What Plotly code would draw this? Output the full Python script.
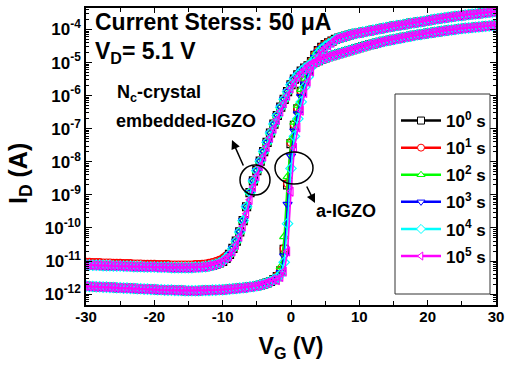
import plotly.graph_objects as go

# ---------------- data ----------------
# Gate-voltage sweep (0.5 V step, -30 V ... 30 V)
VG = [-30 + 0.5 * i for i in range(121)]

SERIES_NAMES = ["10<sup>0</sup> s", "10<sup>1</sup> s", "10<sup>2</sup> s",
                "10<sup>3</sup> s", "10<sup>4</sup> s", "10<sup>5</sup> s"]
SERIES_COLORS = ["#000000", "#FF0000", "#00FF00", "#0000FF", "#00FFFF", "#FF00FF"]
SERIES_SYMBOLS = ["square-open", "circle-open", "triangle-up-open",
                  "triangle-down-open", "diamond-open", "triangle-left-open"]
LEGEND_SYMBOLS = ["square", "circle", "triangle-up", "triangle-down", "diamond",
                  "triangle-left"]

# a-IGZO, log10(I_D / A)
IGZO_OFF = [  # VG = -30 ... -2.5
    -11.76, -11.77, -11.77, -11.78, -11.78, -11.79, -11.79, -11.80, -11.80, -11.81,
    -11.81, -11.82, -11.82, -11.83, -11.83, -11.84, -11.84, -11.85, -11.85, -11.86,
    -11.86, -11.87, -11.87, -11.88, -11.88, -11.88, -11.89, -11.89, -11.89, -11.90,
    -11.90, -11.90, -11.90, -11.90, -11.89, -11.89, -11.89, -11.88, -11.88, -11.87,
    -11.87, -11.86, -11.85, -11.84, -11.83, -11.82, -11.81, -11.80, -11.78, -11.77,
    -11.75, -11.73, -11.70, -11.66, -11.62, -11.56]
# VG = -2 ... 6 (one list per stress time)
IGZO_T0 = [-11.47, -11.30, -10.65, -8.70, -7.45, -6.90, -6.40, -5.87, -5.55, -5.24,
           -4.97, -4.78, -4.64, -4.54, -4.46, -4.40, -4.35]
IGZO_T1 = [-11.45, -11.28, -10.62, -8.66, -7.42, -6.88, -6.38, -5.86, -5.54, -5.23,
           -4.96, -4.77, -4.63, -4.53, -4.45, -4.39, -4.34]
IGZO_T2 = [-11.44, -11.17, -10.26, -8.45, -7.34, -6.80, -6.29, -5.81, -5.49, -5.19,
           -4.93, -4.75, -4.62, -4.52, -4.45, -4.39, -4.34]
IGZO_T3 = [-11.49, -11.35, -10.85, -9.29, -7.83, -7.07, -6.55, -6.03, -5.65, -5.33,
           -5.05, -4.84, -4.68, -4.57, -4.48, -4.42, -4.36]
IGZO_T4 = [-11.52, -11.40, -11.04, -9.87, -8.20, -7.23, -6.70, -6.19, -5.74, -5.43,
           -5.13, -4.89, -4.72, -4.60, -4.51, -4.44, -4.38]
IGZO_T5 = [-11.58, -11.48, -11.32, -10.71, -8.90, -7.58, -6.96, -6.45, -5.92, -5.58,
           -5.27, -5.00, -4.80, -4.66, -4.56, -4.48, -4.40]
IGZO_ON = [  # VG = 6.5 ... 30
    -4.30, -4.26, -4.23, -4.20, -4.17, -4.14, -4.12,
    -4.10, -4.08, -4.06, -4.04, -4.02, -4.00, -3.98, -3.96, -3.94, -3.92,
    -3.90, -3.88, -3.87, -3.85, -3.83, -3.81, -3.80, -3.78, -3.77, -3.75,
    -3.73, -3.71, -3.69, -3.68, -3.66, -3.65, -3.63, -3.62, -3.60, -3.59,
    -3.58, -3.56, -3.55, -3.54, -3.53, -3.52, -3.50, -3.49, -3.48, -3.47,
    -3.46]

# Nc-crystal embedded-IGZO, log10(I_D / A)
NC_OFF = [  # VG = -30 ... -9.5
    -11.12, -11.12, -11.13, -11.13, -11.13, -11.14, -11.14, -11.14, -11.15, -11.15,
    -11.15, -11.16, -11.16, -11.16, -11.17, -11.17, -11.17, -11.18, -11.18, -11.18,
    -11.18, -11.19, -11.19, -11.19, -11.19, -11.20, -11.20, -11.20, -11.20, -11.20,
    -11.20, -11.20, -11.19, -11.19, -11.18, -11.17, -11.15, -11.13, -11.10, -11.06,
    -11.01, -10.92]
NC_OFF_RED = [  # VG = -30 ... -9.5 (10^1 s curve sits slightly higher)
    -11.04, -11.04, -11.05, -11.05, -11.05, -11.06, -11.06, -11.06, -11.07, -11.07,
    -11.07, -11.08, -11.08, -11.08, -11.09, -11.09, -11.09, -11.10, -11.10, -11.10,
    -11.10, -11.11, -11.11, -11.11, -11.11, -11.12, -11.12, -11.12, -11.12, -11.12,
    -11.12, -11.12, -11.11, -11.11, -11.10, -11.09, -11.07, -11.05, -11.02, -10.98,
    -10.93, -10.85]
# VG = -9 ... 2
NC_T_BASE = [-10.80, -10.62, -10.40, -10.12, -9.78, -9.36, -8.93, -8.58, -8.27, -7.98,
             -7.69, -7.41, -7.13, -6.86, -6.60, -6.35, -6.11, -5.88, -5.67, -5.50,
             -5.37, -5.26, -5.17]
NC_T5 = [-10.86, -10.71, -10.51, -10.26, -9.95, -9.57, -9.15, -8.76, -8.43, -8.13,
         -7.84, -7.55, -7.27, -7.00, -6.73, -6.48, -6.23, -6.00, -5.78, -5.59,
         -5.44, -5.32, -5.22]
NC_ON = [  # VG = 2.5 ... 30
    -5.10, -5.04, -4.99, -4.94, -4.90,
    -4.86, -4.82, -4.79, -4.76, -4.73, -4.70, -4.67, -4.64, -4.61, -4.58,
    -4.55, -4.52, -4.49, -4.46, -4.44, -4.41, -4.39, -4.36, -4.34, -4.32,
    -4.30, -4.28, -4.26, -4.24, -4.22, -4.20, -4.18, -4.16, -4.15, -4.13,
    -4.11, -4.10, -4.08, -4.07, -4.05, -4.04, -4.02, -4.01, -4.00, -3.98,
    -3.97, -3.96, -3.95, -3.94, -3.93, -3.92, -3.91, -3.90, -3.89, -3.88,
    -3.87]

X_TICKS = [-30, -20, -10, 0, 10, 20, 30]
X_TICK_TEXT = ["<b>%d</b>" % v for v in X_TICKS]
Y_TICK_EXP = [-12, -11, -10, -9, -8, -7, -6, -5, -4]
Y_TICK_TEXT = ["<b>10<sup>-%d</sup></b>" % (-e) for e in Y_TICK_EXP]

# ---------------- figure ----------------
FONT = "Liberation Sans, Arial, sans-serif"
L, R, T, B = 86, 10, 8, 69
W, H = 506, 374
PW, PH = W - L - R, H - T - B
igzo_trans = [IGZO_T0, IGZO_T1, IGZO_T2, IGZO_T3, IGZO_T4, IGZO_T5]
nc_off = [NC_OFF, NC_OFF_RED, NC_OFF, NC_OFF, NC_OFF, NC_OFF]
nc_trans = [NC_T_BASE, NC_T_BASE, NC_T_BASE, NC_T_BASE, NC_T_BASE, NC_T5]

fig = go.Figure()
for k in range(6):
    col = SERIES_COLORS[k]
    sym = SERIES_SYMBOLS[k]
    for logs in (IGZO_OFF + igzo_trans[k] + IGZO_ON,
                 nc_off[k] + nc_trans[k] + NC_ON):
        fig.add_trace(go.Scatter(
            x=VG, y=[10 ** v for v in logs], mode="lines+markers",
            line=dict(color=col, width=1.6),
            marker=dict(symbol=sym, size=8, color=col, line=dict(color=col, width=1.2)),
            showlegend=False, hoverinfo="skip"))
# legend entries (hollow-looking markers that break the line, as in the original)
for k in range(6):
    fig.add_trace(go.Scatter(
        x=[None], y=[None], mode="lines+markers", name=SERIES_NAMES[k],
        legendgroup="g%d" % k,
        line=dict(color=SERIES_COLORS[k], width=2.5),
        marker=dict(symbol=LEGEND_SYMBOLS[k], size=7, color="white",
                    line=dict(color=SERIES_COLORS[k], width=1))))


def px(xp):
    return (xp - L) / float(PW)


def py(yp):
    return (H - B - yp) / float(PH)


ann = [
    dict(text="<b>Current Sterss: 50 μA</b>", x=px(93), y=py(22), size=23),
    dict(text="<b>V<sub>D</sub>= 5.1 V</b>", x=px(93), y=py(52), size=23),
    dict(text="<b>N<sub>c</sub>-crystal</b>", x=px(115), y=py(93), size=18),
    dict(text="<b>embedded-IGZO</b>", x=px(114), y=py(121), size=18),
    dict(text="<b>a-IGZO</b>", x=px(314), y=py(211), size=18),
]
annotations = []
for a in ann:
    annotations.append(dict(text=a["text"], x=a["x"], y=a["y"], xref="paper", yref="paper",
                            xanchor="left", yanchor="middle", showarrow=False,
                            font=dict(family=FONT, size=a["size"], color="black")))
# y-axis title
annotations.append(dict(text="<b>I<sub>D</sub> (A)</b>", x=px(20), y=py(174),
                        xref="paper", yref="paper", xanchor="center", yanchor="middle",
                        textangle=-90, showarrow=False,
                        font=dict(family=FONT, size=25, color="black")))
annotations.append(dict(text="", x=px(232), y=py(140), xref="paper", yref="paper",
                        ax=12, ay=27, showarrow=True, arrowhead=2, arrowsize=1.2,
                        arrowwidth=1.5, arrowcolor="black"))
annotations.append(dict(text="", x=px(315), y=py(203), xref="paper", yref="paper",
                        ax=-9, ay=-18, showarrow=True, arrowhead=2, arrowsize=1.2,
                        arrowwidth=1.5, arrowcolor="black"))

shapes = [
    dict(type="circle", xref="paper", yref="paper", x0=px(240), x1=px(270),
         y0=py(195), y1=py(165), line=dict(color="black", width=1.5)),
    dict(type="circle", xref="paper", yref="paper", x0=px(275), x1=px(313),
         y0=py(184), y1=py(152), line=dict(color="black", width=1.5)),
    dict(type="rect", xref="paper", yref="paper", x0=px(395), x1=px(490),
         y0=py(294), y1=py(94), line=dict(color="#333333", width=1)),
]

fig.update_layout(
    width=W, height=H,
    margin=dict(l=L, r=R, t=T, b=B, autoexpand=False),
    paper_bgcolor="white", plot_bgcolor="white",
    font=dict(family=FONT, color="black"),
    annotations=annotations, shapes=shapes,
    legend=dict(x=px(396), y=py(103), xanchor="left", yanchor="top",
                bgcolor="rgba(0,0,0,0)", borderwidth=0, itemwidth=40,
                tracegroupgap=2,
                font=dict(family=FONT, size=17, color="black", weight="bold")),
    xaxis=dict(range=[-30, 30], tickvals=X_TICKS, ticktext=X_TICK_TEXT,
               ticks="inside", ticklen=5, automargin=False,
               ticklabeloverflow="allow",
               tickwidth=1.3, tickcolor="black", showline=True, linewidth=1.5,
               linecolor="black", mirror="ticks", showgrid=False, zeroline=False,
               ticklabelstandoff=-3,
               tickfont=dict(family=FONT, size=15, weight="bold"),
               minor=dict(ticks="inside", ticklen=4, dtick=5, tickcolor="black",
                          tickwidth=1.2, showgrid=False),
               title=dict(text="<b>V<sub>G</sub> (V)</b>",
                          font=dict(family=FONT, size=23), standoff=14)),
    yaxis=dict(type="log", range=[-12.33, -3.35], automargin=False,
               ticklabeloverflow="allow",
               tickvals=[10.0 ** e for e in Y_TICK_EXP], ticktext=Y_TICK_TEXT,
               ticks="inside", ticklen=6, tickwidth=1.3, tickcolor="black",
               showline=True, linewidth=1.5, linecolor="black", mirror="ticks",
               showgrid=False, zeroline=False,
               tickfont=dict(family=FONT, size=17, weight="bold"),
               minor=dict(ticks="inside", ticklen=3, dtick="D1", tickcolor="black",
                          tickwidth=1, showgrid=False)),
)

# remove the browser's default 8 px page margin so the figure fills the window
fig.write_html("out.html",
               config={"displayModeBar": False},
               post_script="document.body.style.margin='0';"
                           "document.body.style.overflow='hidden';")
